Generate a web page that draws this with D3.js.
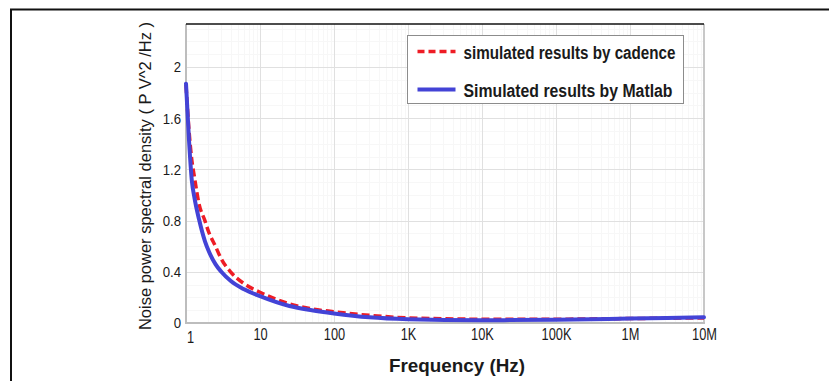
<!DOCTYPE html>
<html lang="en">
<head>
  <meta charset="UTF-8">
  <title>Noise PSD</title>
  <script src="https://cdnjs.cloudflare.com/ajax/libs/d3/7.6.1/d3.min.js"></script>
  <style>
    body { margin: 0; background: #fff; }
    text { font-family: "Liberation Sans", Arial, sans-serif; fill: #1a1a1a; }
    .grid line { stroke: #e0e0e0; stroke-width: 1px; }
    .minor line { stroke: #f7f7f7; stroke-width: 1px; }
  </style>
</head>
<body>
<div id="wrapper"></div>
<script>
// frequency points (Hz) and the two read-off curves (V^2/Hz)
const freq     = [1, 1.1, 1.2, 1.3, 1.5, 1.8, 2, 2.5, 3, 4, 6, 10, 25, 50, 100, 300, 1e3, 1e4, 1e5, 1e6, 1e7];
const cadence  = [1.86, 1.5, 1.27, 1.14, 0.93, 0.80, 0.72, 0.60, 0.50, 0.40, 0.31, 0.24, 0.15, 0.11, 0.088, 0.06, 0.04, 0.03, 0.03, 0.035, 0.04];
const matlab   = [1.87, 1.42, 1.11, 0.98, 0.81, 0.64, 0.57, 0.46, 0.40, 0.33, 0.265, 0.21, 0.133, 0.10, 0.075, 0.045, 0.03, 0.022, 0.025, 0.035, 0.045];

const xTicks = [1, 10, 100, 1e3, 1e4, 1e5, 1e6, 1e7];
const xTickLabels = ["1", "10", "100", "1K", "10K", "100K", "1M", "10M"];
const yTicks = [0, 0.4, 0.8, 1.2, 1.6, 2];
const seriesNames = ["simulated results by cadence", "Simulated results by Matlab"];

// the source picture is squeezed sideways, so squeeze the text the same way
function squeeze(sel, factor) {
    sel.each(function() {
        const len = this.getComputedTextLength();
        d3.select(this)
            .attr("textLength", len * factor)
            .attr("lengthAdjust", "spacingAndGlyphs");
    });
}

function build() {
    var dimension = {
        width: 829,
        height: 381,
        margin: { top: 24, right: 125, bottom: 58, left: 186 }
    };
    dimension.boundedWidth = dimension.width - dimension.margin.left - dimension.margin.right;
    dimension.boundedHeight = dimension.height - dimension.margin.top - dimension.margin.bottom;

    const svg = d3.select("#wrapper")
        .append("svg")
        .attr("width", dimension.width)
        .attr("height", dimension.height);

    // outer frame (top and left edges only are visible)
    svg.append("path")
        .attr("d", "M10,9.5H829M11,9V381")
        .attr("fill", "none")
        .attr("stroke", "#111")
        .attr("stroke-width", 2);

    const bounds = svg.append("g")
        .attr("transform", `translate(${dimension.margin.left},${dimension.margin.top})`);

    const x = d3.scaleLog().domain([1, 1e7]).range([0, dimension.boundedWidth]);
    const y = d3.scaleLinear().domain([0, 2.336]).range([dimension.boundedHeight, 0]);

    // minor grid
    const minorX = [];
    for (let d = 1; d < 1e7; d *= 10)
        for (let k = 2; k < 10; k++) minorX.push(d * k);
    const minorY = d3.range(0.1, 2.34, 0.1);

    bounds.append("g").attr("class", "minor")
        .selectAll("line").data(minorX).enter().append("line")
        .attr("x1", d => Math.round(x(d)) + 0.5).attr("x2", d => Math.round(x(d)) + 0.5)
        .attr("y1", 0).attr("y2", dimension.boundedHeight);
    bounds.append("g").attr("class", "minor")
        .selectAll("line").data(minorY).enter().append("line")
        .attr("y1", d => Math.round(y(d)) + 0.5).attr("y2", d => Math.round(y(d)) + 0.5)
        .attr("x1", 0).attr("x2", dimension.boundedWidth);

    // major grid
    bounds.append("g").attr("class", "grid")
        .selectAll("line").data(xTicks.slice(1, -1)).enter().append("line")
        .attr("x1", d => Math.round(x(d)) + 0.5).attr("x2", d => Math.round(x(d)) + 0.5)
        .attr("y1", 0).attr("y2", dimension.boundedHeight);
    bounds.append("g").attr("class", "grid")
        .selectAll("line").data(yTicks.slice(1)).enter().append("line")
        .attr("y1", d => Math.round(y(d)) + 0.5).attr("y2", d => Math.round(y(d)) + 0.5)
        .attr("x1", 0).attr("x2", dimension.boundedWidth);

    // plot frame: dark top, grey sides and bottom
    bounds.append("line")
        .attr("x1", dimension.boundedWidth).attr("x2", dimension.boundedWidth)
        .attr("y1", 0).attr("y2", dimension.boundedHeight)
        .attr("stroke", "#c8c8c8").attr("stroke-width", 2);
    bounds.append("line")
        .attr("x1", 0).attr("x2", 0)
        .attr("y1", 0).attr("y2", dimension.boundedHeight)
        .attr("stroke", "#bdbdbd").attr("stroke-width", 2);
    bounds.append("line")
        .attr("x1", -1).attr("x2", dimension.boundedWidth + 1)
        .attr("y1", dimension.boundedHeight).attr("y2", dimension.boundedHeight)
        .attr("stroke", "#bdbdbd").attr("stroke-width", 2);
    bounds.append("line")
        .attr("x1", 0).attr("x2", dimension.boundedWidth)
        .attr("y1", 0).attr("y2", 0)
        .attr("stroke", "#111").attr("stroke-width", 1.5);

    // axes (ticks only as labels)
    const xAxis = d3.axisBottom(x)
        .tickValues(xTicks)
        .tickFormat((d, i) => xTickLabels[i])
        .tickSize(0)
        .tickPadding(6);
    const gx = bounds.append("g")
        .attr("transform", `translate(0,${dimension.boundedHeight})`)
        .call(xAxis);
    gx.select(".domain").remove();
    gx.selectAll("text")
        .style("font-size", "16px")
        .style("font-family", null)
        .attr("fill", "#1a1a1a");
    gx.selectAll(".tick").filter(d => d === 1).select("text").attr("dx", 4).attr("dy", "0.9em");
    squeeze(gx.selectAll("text"), 0.8);

    const yAxis = d3.axisLeft(y)
        .tickValues(yTicks)
        .tickFormat(d3.format("~g"))
        .tickSize(0)
        .tickPadding(5);
    const gy = bounds.append("g").call(yAxis);
    gy.select(".domain").remove();
    gy.selectAll("text")
        .style("font-size", "15px")
        .style("font-family", null)
        .attr("fill", "#1a1a1a");
    squeeze(gy.selectAll("text"), 0.88);

    // curves
    const cadenceData = freq.map((f, i) => ({ f: f, v: cadence[i] }));
    const matlabData = freq.map((f, i) => ({ f: f, v: matlab[i] }));
    const line = d3.line()
        .x(d => x(d.f))
        .y(d => y(d.v))
        .curve(d3.curveMonotoneX);

    bounds.append("path")
        .datum(cadenceData)
        .attr("d", line)
        .attr("fill", "none")
        .attr("stroke", "#ee1c25")
        .attr("stroke-width", 3.5)
        .attr("stroke-dasharray", "8,4");
    bounds.append("path")
        .datum(matlabData)
        .attr("d", line)
        .attr("fill", "none")
        .attr("stroke", "#4343d6")
        .attr("stroke-width", 4)
        .attr("stroke-linecap", "round");

    // axis titles
    svg.append("text")
        .attr("transform", "translate(151,176) rotate(-90)")
        .attr("text-anchor", "middle")
        .style("font-size", "16.5px")
        .text("Noise power spectral density ( P V^2 /Hz )");
    const xt = svg.append("text")
        .attr("x", 457)
        .attr("y", 372)
        .attr("text-anchor", "middle")
        .style("font-size", "19px")
        .style("font-weight", "bold")
        .text("Frequency (Hz)");
    xt.attr("textLength", 136).attr("lengthAdjust", "spacingAndGlyphs");

    // legend
    const legend = svg.append("g").attr("transform", "translate(407.5,35.5)");
    legend.append("rect")
        .attr("width", 276).attr("height", 68)
        .attr("fill", "#fff").attr("stroke", "#8c8c8c").attr("stroke-width", 1);
    const styles = [
        { color: "#ee1c25", dash: "7,4", width: 3.5, len: 212 },
        { color: "#4343d6", dash: null, width: 4, len: 209 }
    ];
    const item = legend.selectAll(".item")
        .data(seriesNames)
        .enter().append("g")
        .attr("transform", (d, i) => `translate(0,${16 + i * 38})`);
    item.append("line")
        .attr("x1", 10).attr("x2", 48)
        .attr("stroke", (d, i) => styles[i].color)
        .attr("stroke-width", (d, i) => styles[i].width)
        .attr("stroke-dasharray", (d, i) => styles[i].dash);
    item.append("text")
        .attr("x", 56)
        .attr("y", 7)
        .style("font-size", "18px")
        .style("font-weight", "bold")
        .attr("textLength", (d, i) => styles[i].len)
        .attr("lengthAdjust", "spacingAndGlyphs")
        .text(d => d);
}

build();
</script>
</body>
</html>
